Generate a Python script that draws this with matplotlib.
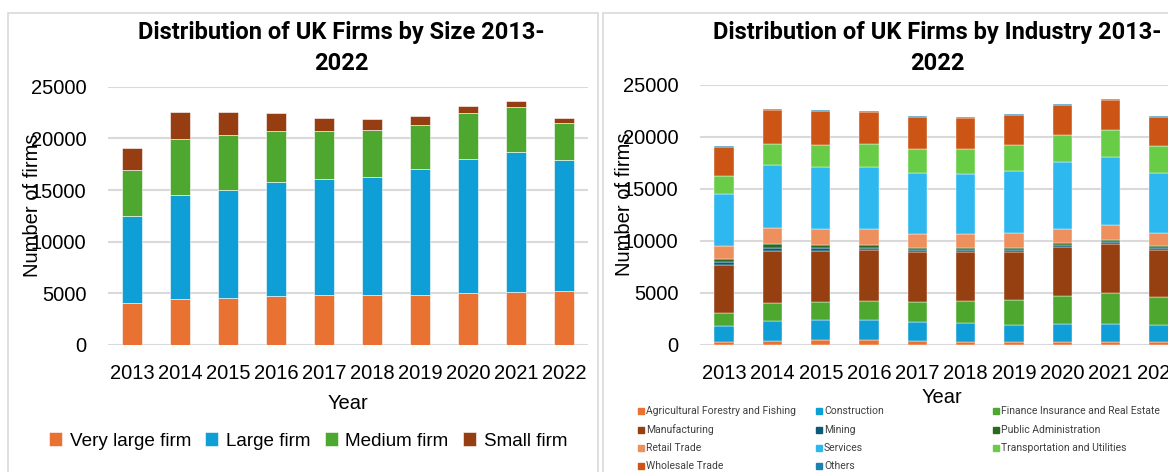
import matplotlib
matplotlib.use("Agg")
import matplotlib.pyplot as plt
from matplotlib.patches import Rectangle
import numpy as np

years = ["2013", "2014", "2015", "2016", "2017", "2018", "2019", "2020", "2021", "2022"]

# Firms by size
size_labels = ["Very large firm", "Large firm", "Medium firm", "Small firm"]
very_large = [4030, 4480, 4580, 4710, 4840, 4840, 4870, 5030, 5130, 5190]
large = [8420, 10030, 10420, 11030, 11260, 11450, 12130, 12970, 13580, 12680]
medium = [4480, 5420, 5290, 5000, 4610, 4480, 4290, 4450, 4290, 3580]
small = [2130, 2650, 2230, 1680, 1230, 1060, 840, 710, 580, 480]
size_colors = ["#E97132", "#0F9ED5", "#4EA72E", "#963D11"]

# Firms by industry
ind_labels = ["Agricultural Forestry and Fishing", "Construction", "Finance Insurance and Real Estate",
              "Manufacturing", "Mining", "Public Administration",
              "Retail Trade", "Services", "Transportation and Utilities",
              "Wholesale Trade", "Others"]
agri = [320, 385, 480, 480, 385, 320, 256, 256, 256, 256]
construction = [1475, 1923, 1892, 1892, 1795, 1795, 1699, 1795, 1795, 1699]
finance = [1282, 1698, 1728, 1827, 1920, 2148, 2340, 2629, 2981, 2660]
manufacturing = [4619, 5067, 4973, 4940, 4815, 4652, 4620, 4715, 4651, 4492]
mining = [257, 290, 227, 224, 224, 192, 192, 256, 192, 193]
public_admin = [320, 353, 320, 257, 224, 193, 256, 192, 225, 192]
retail = [1251, 1566, 1566, 1502, 1342, 1373, 1374, 1343, 1406, 1245]
services = [5026, 5993, 5961, 5961, 5865, 5769, 5993, 6377, 6538, 5833]
transport = [1670, 2019, 2083, 2211, 2276, 2436, 2500, 2627, 2596, 2564]
wholesale = [2820, 3301, 3270, 3110, 3044, 2949, 2885, 2886, 2917, 2789]
others = [90, 65, 64, 64, 97, 64, 65, 96, 63, 97]
ind_colors = ["#E97132", "#0F9ED5", "#4EA72E", "#963F10", "#0B5A78", "#2B6A1E",
              "#EE8F5E", "#2DB8EF", "#69CC46", "#CC5516", "#1E80AE"]

W, H = 1168, 472
fig = plt.figure(figsize=(W / 100, H / 100), dpi=100)
FONT = "Liberation Sans"
TFONT = "Roboto"

def fx(px):
    return px / W

def fy(py):
    return 1 - py / H

# panel borders
for (x0, x1) in [(8, 598), (603, 1185)]:
    fig.patches.append(Rectangle((fx(x0), fy(480)), fx(x1 - x0), (480 - 13) / H,
                                 transform=fig.transFigure, fill=False,
                                 edgecolor="#D9D9D9", linewidth=1.2))

def style_axes(ax, xlabelpad, ylab_x):
    ax.set_ylim(0, 25000)
    ax.set_yticks(range(0, 25001, 5000))
    ax.set_xlim(-0.5, 9.5)
    ax.yaxis.grid(True, color="#D9D9D9", linewidth=1.5)
    ax.set_axisbelow(True)
    for s in ax.spines.values():
        s.set_visible(False)
    ax.tick_params(axis="both", length=0, labelsize=14.5)
    ax.tick_params(axis="y", pad=15.5)
    ax.tick_params(axis="x", pad=13.5)
    for lab in ax.get_xticklabels() + ax.get_yticklabels():
        lab.set_fontfamily(FONT)
    ax.set_xlabel("Year", fontsize=14.5, fontfamily=FONT, labelpad=xlabelpad)
    ax.set_ylabel("Number of firms", fontsize=14.5, fontfamily=FONT)
    ax.yaxis.set_label_coords(ylab_x, 0.54)

x = np.arange(len(years))
bw = 0.4

# Left chart
ax1 = fig.add_axes([fx(108), fy(345), fx(480), (345 - 86.7) / H])
bottom = np.zeros(len(years))
for vals, lab, col in zip([very_large, large, medium, small], size_labels, size_colors):
    ax1.bar(x, vals, bw, bottom=bottom, color=col, label=lab, edgecolor="white", linewidth=0.4)
    bottom += np.array(vals)
ax1.set_xticks(x)
ax1.set_xticklabels(years)
style_axes(ax1, 8, -0.138)
fig.text(fx(341), fy(48), "Distribution of UK Firms by Size 2013-\n2022", ha="center", va="center",
         fontsize=17, fontweight="bold", fontfamily=TFONT, linespacing=1.4)
h1, l1 = ax1.get_legend_handles_labels()
fig.legend(h1, l1, loc="center", bbox_to_anchor=(fx(308), fy(441)), ncol=4, frameon=False,
           prop={"family": FONT, "size": 13.6}, handlelength=0.7, handleheight=0.7,
           handletextpad=0.4, columnspacing=0.75)

# Right chart
ax2 = fig.add_axes([fx(700), fy(345), fx(483), (345 - 85) / H])
series = [agri, construction, finance, manufacturing, mining, public_admin,
          retail, services, transport, wholesale, others]
bottom = np.zeros(len(years))
for vals, lab, col in zip(series, ind_labels, ind_colors):
    ax2.bar(x, vals, bw, bottom=bottom, color=col, label=lab, edgecolor="white", linewidth=0.3)
    bottom += np.array(vals)
ax2.set_xticks(x)
ax2.set_xticklabels(years)
style_axes(ax2, 4, -0.136)
fig.text(fx(937), fy(48), "Distribution of UK Firms by Industry 2013-\n2022", ha="center", va="center",
         fontsize=17, fontweight="bold", fontfamily=TFONT, linespacing=1.4)

# Right legend (row-major, 3 columns)
col_x = [638, 816, 993]
row_y = [411, 430, 448, 466]
for i, (lab, col) in enumerate(zip(ind_labels, ind_colors)):
    r, c = divmod(i, 3)
    fig.patches.append(Rectangle((fx(col_x[c]), fy(row_y[r] + 3)), fx(6), 6 / H,
                                 transform=fig.transFigure, color=col))
    fig.text(fx(col_x[c] + 8), fy(row_y[r]), lab, ha="left", va="center",
             fontsize=7.5, fontfamily=TFONT, color="#404040")

fig.savefig("out.png", dpi=100)
